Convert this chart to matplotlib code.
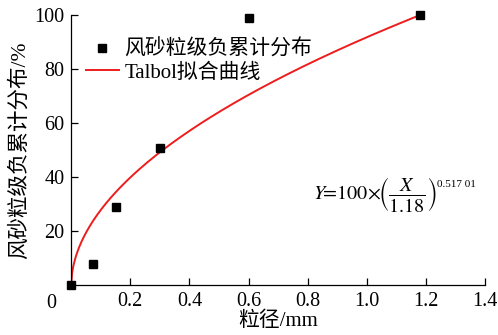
import numpy as np
import matplotlib
matplotlib.use("Agg")
import matplotlib.pyplot as plt

plt.rcParams['font.family'] = ['Liberation Serif', 'Noto Sans CJK SC']
plt.rcParams['mathtext.fontset'] = 'stix'

# data
grain_size = [0.0, 0.075, 0.15, 0.3, 0.6, 1.18]
cum_percent = [0, 8, 29, 51, 99, 100]
fit_dmax = 1.18
fit_exp = 0.51701
x_ticks = [0.2, 0.4, 0.6, 0.8, 1.0, 1.2, 1.4]
y_ticks = [20, 40, 60, 80, 100]

fig = plt.figure(figsize=(4.98, 3.35), dpi=100)
ax = fig.add_axes([0.143, 0.148, 0.831, 0.807])

xs = np.linspace(0, fit_dmax, 400)
ys = 100 * (xs / fit_dmax) ** fit_exp
ax.plot(xs, ys, color='#ee1c1c', lw=1.4, label='Talbol拟合曲线', zorder=2)
ax.plot(grain_size, cum_percent, 's', color='black', ms=5.5, ls='none',
        label='风砂粒级负累计分布', clip_on=False, zorder=3)

ax.set_xlim(0, 1.4)
ax.set_ylim(0, 100)
ax.set_xticks(x_ticks)
ax.set_xticklabels(['%.1f' % v for v in x_ticks])
ax.set_yticks(y_ticks)
ax.set_yticklabels([str(v) for v in y_ticks])
ax.tick_params(direction='in', labelsize=14.5, length=5, width=0.9, pad=5)
for s in ['top', 'right']:
    ax.spines[s].set_visible(False)
for s in ['left', 'bottom']:
    ax.spines[s].set_linewidth(0.9)

ax.text(-0.035, -0.03, '0', transform=ax.transAxes, ha='right', va='top', fontsize=14.5)

ax.set_xlabel('粒径/mm', fontsize=15, labelpad=0)
ax.set_ylabel('风砂粒级负累计分布/%', fontsize=15.5, labelpad=3)

handles, labels = ax.get_legend_handles_labels()
ax.legend(handles[::-1], labels[::-1], loc='upper left', bbox_to_anchor=(0.005, 0.955),
          frameon=False, fontsize=15, handlelength=1.6, handletextpad=0.25,
          labelspacing=0.15, borderaxespad=0.2)

eq = ax.text(0.585, 0.335,
             r'$Y\!\!=\!100\!\times\!\!\left(\dfrac{X}{1.18}\right)$',
             transform=ax.transAxes, fontsize=14.5, ha='left', va='center')
ax.annotate('0.517 01', xy=(1.0, 1.0), xycoords=eq, xytext=(0, -3),
            textcoords='offset points', ha='left', va='top', fontsize=8)

fig.savefig('out.png', dpi=100)
